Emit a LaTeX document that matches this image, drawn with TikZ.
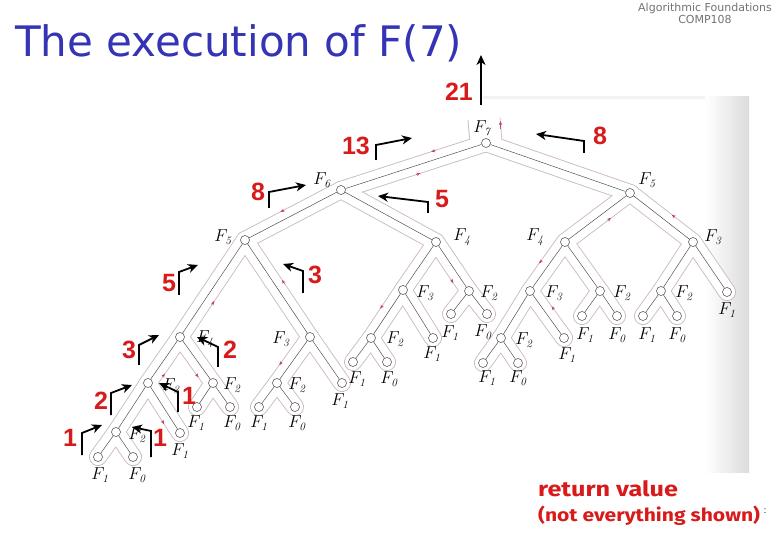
\documentclass[tikz,border=0pt]{standalone}
\usepackage{fontspec}
\usetikzlibrary{calc,arrows.meta}
\newfontfamily\titlefont{DejaVu Sans}
\newfontfamily\numfont{Liberation Sans}
\newfontfamily\notefont{Fira Sans}
\definecolor{titleblue}{HTML}{3434B4}
\definecolor{numred}{HTML}{D91A1A}
\definecolor{tubecol}{HTML}{CDBBBF}
\definecolor{tourred}{HTML}{C04858}
\definecolor{edgecol}{HTML}{454545}
\pgfdeclarelayer{bg}
\pgfdeclarelayer{tube}
\pgfsetlayers{bg,tube,main}
\newcommand\fibnode[6]{%
  \node[tnode] (#1) at (#2,#3) {};
  \node[tlabel] (#1l) at (#5,#6) {$F_{\mathit{#4}}$};}
\newcommand\tourmark[4]{%
  \draw[tourarr] ($(#1.center)!#3!(#2.center)!8.5pt!-90:(#2.center)$) --
                 ($(#1.center)!#4!(#2.center)!8.5pt!-90:(#2.center)$);}
\def\fibedges{n7/n6,n7/n5R,n6/n5L,n6/n4a,n5L/n4L,n5L/n3b,n4L/n3L,n4L/n2L,n3L/n2LL,n3L/n1c,n2LL/n1d,n2LL/n0d,n2L/n1e,n2L/n0e,n3b/n2b,n3b/n1f,n2b/n1g,n2b/n0g,n4a/n3a,n4a/n2a,n3a/n2aa,n3a/n1h,n2aa/n1i,n2aa/n0i,n2a/n1j,n2a/n0j,n5R/n4b,n5R/n3c,n4b/n3bb,n4b/n2bb,n3bb/n2bbb,n3bb/n1k,n2bbb/n1l,n2bbb/n0l,n2bb/n1m,n2bb/n0m,n3c/n2c,n3c/n1n,n2c/n1o,n2c/n0o}
\begin{document}
\begin{tikzpicture}[x=1pt,y=-1pt,
  tnode/.style={circle,draw=edgecol,fill=white,line width=0.5pt,minimum size=9pt,inner sep=0pt},
  tlabel/.style={font=\fontsize{16}{16}\selectfont,inner sep=0pt},
  tedge/.style={draw=edgecol,line width=0.45pt},
  tubeout/.style={draw=tubecol,line width=18pt,line cap=round,line join=round},
  tubein/.style={draw=white,line width=16.2pt,line cap=round,line join=round},
  tourarr/.style={draw=tourred,line width=0.5pt,-{Stealth[length=4pt,width=3.2pt]}},
  retnum/.style={text=numred,font=\numfont\bfseries\fontsize{25}{25}\selectfont,inner sep=0pt},
  retarrow/.style={draw=black,line width=1.8pt,line join=miter,-{Stealth[length=10pt,width=9pt,inset=3pt]}},
]
\useasboundingbox (0,0) rectangle (780,540);
\begin{pgfonlayer}{bg}
  \fill[white] (0,0) rectangle (780,540);
  \fill[black!5] (483,96) rectangle (749,99);
  \shade[left color=white,right color=black!14] (705,97) rectangle (749,472);
\end{pgfonlayer}

% header and title
\node[align=center,text=black!55,font=\titlefont\fontsize{11}{12}\selectfont,inner sep=0pt] (hdr) at (705,13) {Algorithmic Foundations\\COMP108};
\node[anchor=base west,text=titleblue,font=\titlefont\fontsize{42}{42}\selectfont,inner sep=0pt] (title) at (15,57) {The execution of F(7)};

% tree nodes
\fibnode{n7}{486}{143}{7}{482}{128}
\fibnode{n6}{341}{190}{6}{322}{180}
\fibnode{n5L}{245}{240}{5}{223}{237}
\fibnode{n4a}{436}{242}{4}{462}{237}
\fibnode{n5R}{630}{193}{5}{647}{180}
\fibnode{n4b}{565}{242}{4}{535}{237}
\fibnode{n3c}{693}{242}{3}{713}{237}
\fibnode{n4L}{180}{337}{4}{205}{339}
\fibnode{n3b}{310}{337}{3}{281}{339}
\fibnode{n3L}{148}{383}{3}{171}{386}
\fibnode{n2L}{213}{383}{2}{232}{385}
\fibnode{n2LL}{116}{432}{2}{137}{435}
\fibnode{n1c}{180}{433}{1}{180}{451}
\fibnode{n1d}{98}{457}{1}{100}{475}
\fibnode{n0d}{133}{457}{0}{137}{475}
\fibnode{n1e}{197}{407}{1}{196}{423}
\fibnode{n0e}{230}{407}{0}{232}{423}
\fibnode{n2b}{277}{383}{2}{297}{385}
\fibnode{n1f}{342}{383}{1}{340}{401}
\fibnode{n1g}{259}{407}{1}{259}{423}
\fibnode{n0g}{295}{407}{0}{297}{423}
\fibnode{n3a}{403}{290}{3}{425}{293}
\fibnode{n2a}{469}{291}{2}{489}{293}
\fibnode{n2aa}{371}{338}{2}{395}{339}
\fibnode{n1h}{433}{338}{1}{432}{354}
\fibnode{n1i}{353}{362}{1}{357}{379}
\fibnode{n0i}{387}{362}{0}{389}{379}
\fibnode{n1j}{451}{314}{1}{450}{333}
\fibnode{n0j}{487}{314}{0}{483}{332}
\fibnode{n3bb}{530}{291}{3}{554}{293}
\fibnode{n2bb}{600}{291}{2}{622}{293}
\fibnode{n2bbb}{501}{338}{2}{524}{340}
\fibnode{n1k}{564}{338}{1}{567}{355}
\fibnode{n1l}{483}{363}{1}{487}{378}
\fibnode{n0l}{518}{363}{0}{518}{378}
\fibnode{n1m}{582}{316}{1}{585}{335}
\fibnode{n0m}{617}{316}{0}{617}{335}
\fibnode{n2c}{661}{291}{2}{684}{293}
\fibnode{n1n}{727}{292}{1}{727}{310}
\fibnode{n1o}{643}{316}{1}{647}{335}
\fibnode{n0o}{677}{316}{0}{677}{335}

% tree edges
\foreach \a/\b in \fibedges {\draw[tedge] (\a) -- (\b);}

% traversal contour
\coordinate (rootTop) at (484,119);
\coordinate (rootTopW) at (484,118);
\begin{pgfonlayer}{tube}
  \foreach \a/\b in \fibedges {\draw[tubeout] (\a.center) -- (\b.center);}
  \draw[draw=tubecol,line width=33pt] (n7.center) -- (rootTop);
  \foreach \a/\b in \fibedges {\draw[tubein] (\a.center) -- (\b.center);}
  \draw[draw=white,line width=31.2pt] (n7.center) -- (rootTopW);
\end{pgfonlayer}
\coordinate (exitA) at (500.5,129);
\coordinate (exitB) at (500.5,121);
\draw[tourarr] (exitA) -- (exitB);
\tourmark{n7}{n6}{0.33}{0.36}
\tourmark{n6}{n7}{0.50}{0.53}
\tourmark{n6}{n5L}{0.55}{0.59}
\tourmark{n4b}{n5R}{0.58}{0.63}
\tourmark{n3c}{n5R}{0.37}{0.42}
\tourmark{n3b}{n5L}{0.50}{0.54}
\tourmark{n3L}{n4L}{0.24}{0.31}
\tourmark{n4L}{n2L}{0.70}{0.77}
\tourmark{n3L}{n1c}{0.66}{0.73}
\tourmark{n3b}{n2b}{0.65}{0.72}
\tourmark{n4a}{n2a}{0.67}{0.74}
\tourmark{n3a}{n2aa}{0.42}{0.49}
\tourmark{n4b}{n3bb}{0.47}{0.54}
\tourmark{n1k}{n3bb}{0.50}{0.57}
\tourmark{n4L}{n5L}{0.38}{0.42}

% return values
\node[retnum] (v21) at (459,92) {21};
\node[retnum] (v13) at (356,146) {13};
\node[retnum] (v8a) at (258,192) {8};
\node[retnum] (v5a) at (442,199) {5};
\node[retnum] (v8b) at (600,136) {8};
\node[retnum] (v5b) at (169,283) {5};
\node[retnum] (v3a) at (315,275) {3};
\node[retnum] (v3b) at (129,350) {3};
\node[retnum] (v2a) at (230,350) {2};
\node[retnum] (v2b) at (101,401) {2};
\node[retnum] (v1a) at (189,396) {1};
\node[retnum] (v1b) at (70,438) {1};
\node[retnum] (v1c) at (160,438) {1};

\coordinate (s21) at (481,105); \coordinate (e21) at (481,55);
\coordinate (s13) at (376,160); \coordinate (c13) at (376,145); \coordinate (e13) at (412,138);
\coordinate (s8a) at (269,208); \coordinate (c8a) at (269,192); \coordinate (e8a) at (306,185);
\coordinate (s5a) at (428,213); \coordinate (c5a) at (428,202); \coordinate (e5a) at (378,196);
\coordinate (s8b) at (584,153); \coordinate (c8b) at (584,141); \coordinate (e8b) at (536,134);
\coordinate (s5b) at (179,295); \coordinate (c5b) at (179,272); \coordinate (e5b) at (198,265);
\coordinate (s3a) at (303,293); \coordinate (c3a) at (303,271); \coordinate (e3a) at (283,264);
\coordinate (s3b) at (139,365); \coordinate (c3b) at (139,345); \coordinate (e3b) at (159,335);
\coordinate (s2a) at (218,367); \coordinate (c2a) at (218,347); \coordinate (e2a) at (197,337);
\coordinate (s2b) at (111,415); \coordinate (c2b) at (111,393); \coordinate (e2b) at (132,385);
\coordinate (s1a) at (178,412); \coordinate (c1a) at (178,392); \coordinate (e1a) at (159,383);
\coordinate (s1b) at (82,455);  \coordinate (c1b) at (82,433);  \coordinate (e1b) at (102,425);
\coordinate (s1c) at (151,457); \coordinate (c1c) at (151,431); \coordinate (e1c) at (132,427);
\draw[retarrow] (s21) -- (e21);
\foreach \k in {13,8a,5a,8b,5b,3a,3b,2a,2b,1a,1b,1c}
  {\draw[retarrow] (s\k) -- (c\k) -- (e\k);}

% legend
\node[anchor=base west,text=numred,inner sep=0pt] (retval) at (538,496)
  {\notefont\bfseries\fontsize{21}{21}\selectfont\scalebox{1.2}[1]{return value}};
\node[anchor=base west,text=numred,inner sep=0pt] (notall) at (538,521)
  {\notefont\bfseries\fontsize{18}{18}\selectfont\scalebox{1.17}[1]{(not everything shown)}};
\node[inner sep=0pt,font=\fontsize{11}{11}\selectfont] (mark) at (765,511) {:};
\end{tikzpicture}
\end{document}
